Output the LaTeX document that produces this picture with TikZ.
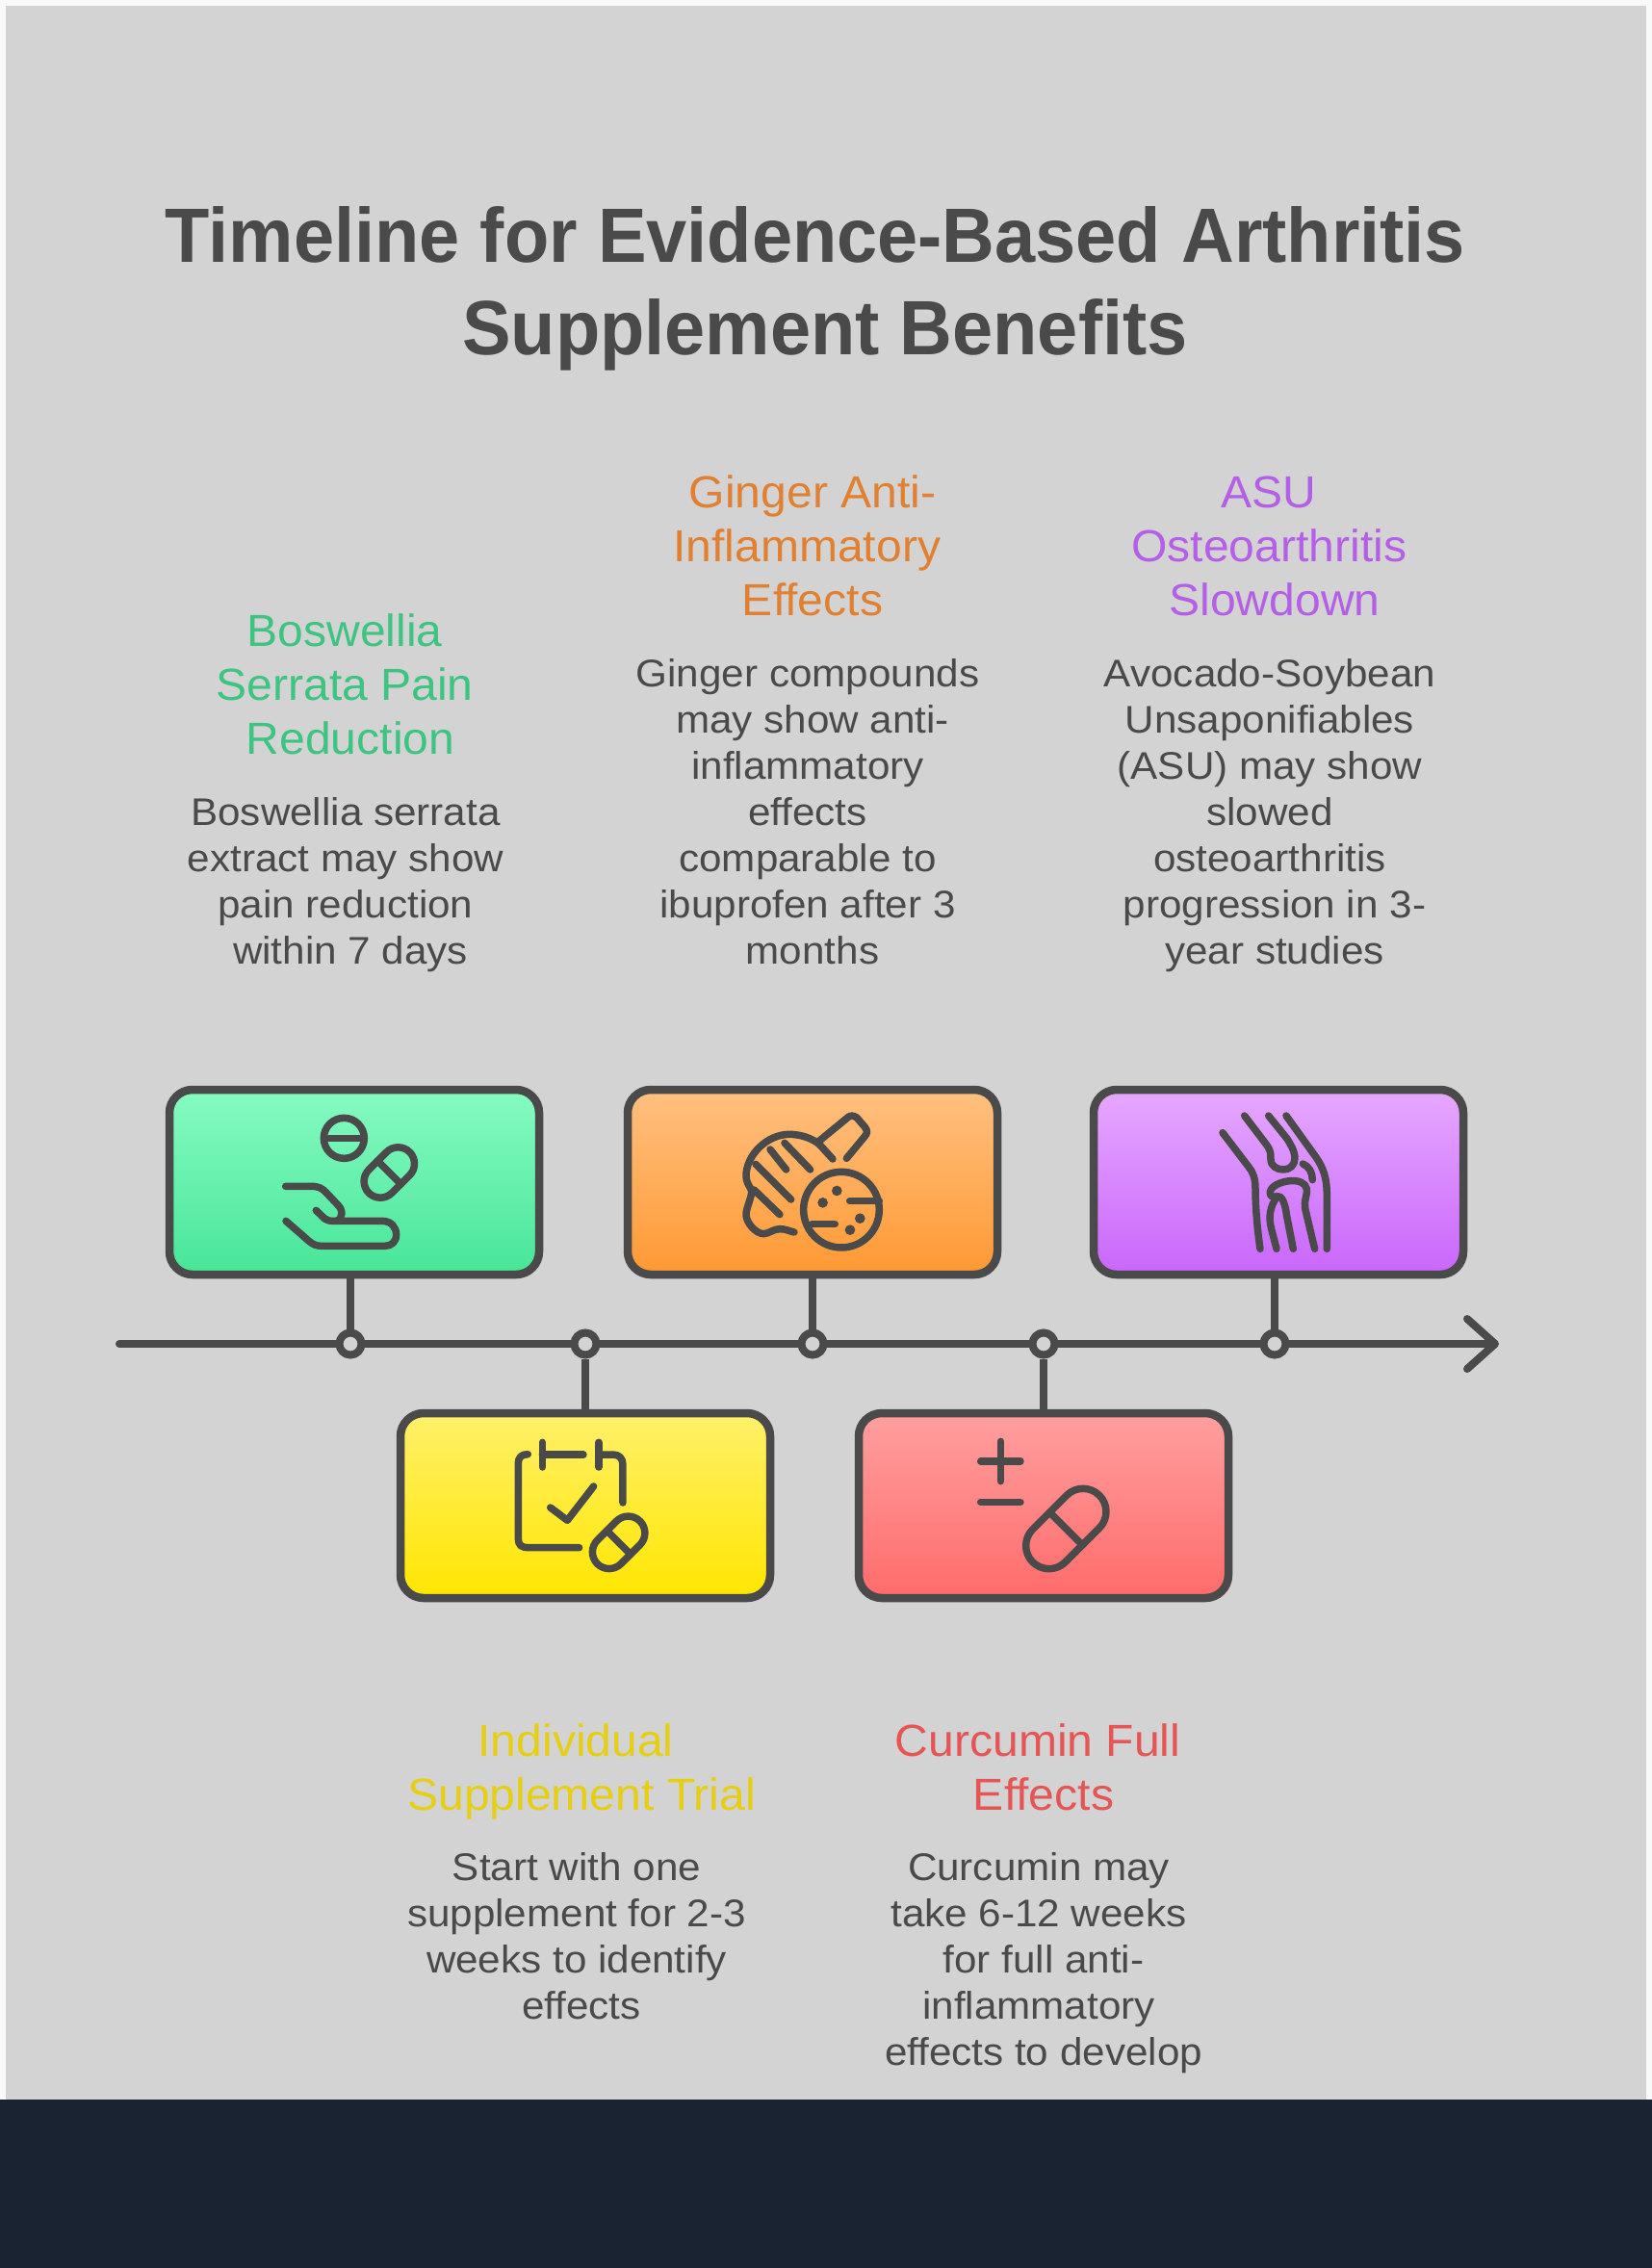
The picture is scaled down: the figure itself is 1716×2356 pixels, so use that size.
\documentclass[tikz,border=0pt]{standalone}
\usepackage{fontspec}
\setmainfont[FakeStretch=1.055,BoldFeatures={FakeStretch=0.947}]{Liberation Sans}
\newfontfamily\headfont[FakeStretch=1.03]{Liberation Sans}
\usetikzlibrary{arrows.meta}
\definecolor{inkgrey}{HTML}{4A4A4A}
\definecolor{panelgrey}{HTML}{D3D3D3}
\definecolor{pagewhite}{HTML}{F8FAFA}
\definecolor{footbar}{HTML}{1A2332}
\definecolor{txtgreen}{HTML}{3CC480}
\definecolor{txtorange}{HTML}{E08030}
\definecolor{txtpurple}{HTML}{B45FE6}
\definecolor{txtyellow}{HTML}{E6CF12}
\definecolor{txtred}{HTML}{E65555}
\definecolor{greentop}{HTML}{86FBC2}
\definecolor{greenbot}{HTML}{47E598}
\definecolor{orangetop}{HTML}{FFC080}
\definecolor{orangebot}{HTML}{FF9933}
\definecolor{purpletop}{HTML}{E6A8FF}
\definecolor{purplebot}{HTML}{C966FB}
\definecolor{yellowtop}{HTML}{FFF06A}
\definecolor{yellowbot}{HTML}{FFE600}
\definecolor{redtop}{HTML}{FF9F9F}
\definecolor{redbot}{HTML}{FF6B6B}
\newcommand{\tsp}{\kern0.25em}
\newcommand{\pillicon}[4]{
  \draw[icon,shift={(#1,#2)},rotate=45,rounded corners=#4*0.3333pt] (-#3-#4,-#4) rectangle (#3+#4,#4);
  \draw[icon,shift={(#1,#2)},rotate=45] (0,-#4) -- (0,#4);
}
\tikzset{
  x=1pt,y=-1pt,
  icon/.style={draw=inkgrey,line width=7.5pt,line cap=round,line join=round},
  iconbox/.style={draw=inkgrey,line width=8.5pt,rounded corners=24pt,minimum width=384pt,minimum height=192pt,inner sep=0pt},
  dotmark/.style={circle,draw=inkgrey,fill=panelgrey,line width=8pt,minimum size=23pt,inner sep=0pt},
  conn/.style={draw=inkgrey,line width=8pt},
  titletxt/.style={text=inkgrey,font=\fontsize{80}{96}\selectfont\bfseries,align=center,inner sep=0pt,anchor=base},
  headtxt/.style={font=\fontsize{46.67}{56}\selectfont\headfont,align=center,inner sep=0pt,anchor=base},
  bodytxt/.style={text=inkgrey,font=\fontsize{40}{48}\selectfont,align=center,inner sep=0pt,anchor=base},
  zoomed/.style={x=0.3333pt,y=-0.3333pt}
}
\begin{document}
\begin{tikzpicture}
            \useasboundingbox (0,0) rectangle (1716,2356);
            \fill[pagewhite] (0,0) rectangle (1716,2356);
            \fill[panelgrey] (6,6) rectangle (1710,2181);
            \fill[footbar] (0,2181) rectangle (1716,2356);

            \node[titletxt](title) at (857,368) {Timeline for Evidence-Based Arthritis\tsp\\Supplement Benefits};

            \node[headtxt,text=txtgreen](hgreen) at (364,783) {Boswellia\tsp\\Serrata Pain\tsp\\Reduction};
            \node[bodytxt](tgreen) at (364,1001) {Boswellia serrata\tsp\\extract may show\tsp\\pain reduction\tsp\\within 7 days};
            \node[headtxt,text=txtorange](horange) at (844,639) {Ginger Anti-\\Inflammatory\tsp\\Effects};
            \node[bodytxt](torange) at (844,1001) {Ginger compounds\tsp\\may show anti-\\inflammatory\tsp\\effects\tsp\\comparable to\tsp\\ibuprofen after 3\tsp\\months};
            \node[headtxt,text=txtpurple](hpurple) at (1324,639) {ASU\tsp\\Osteoarthritis\tsp\\Slowdown};
            \node[bodytxt](tpurple) at (1324,1001) {Avocado-Soybean\tsp\\Unsaponifiables\tsp\\(ASU) may show\tsp\\slowed\tsp\\osteoarthritis\tsp\\progression in 3-\\year studies};
            \node[headtxt,text=txtyellow](hyellow) at (604,1880) {Individual\tsp\\Supplement Trial};
            \node[bodytxt](tyellow) at (604,2097) {Start with one\tsp\\supplement for 2-3\tsp\\weeks to identify\tsp\\effects};
            \node[headtxt,text=txtred](hred) at (1084,1880) {Curcumin Full\tsp\\Effects};
            \node[bodytxt](tred) at (1084,2145) {Curcumin may\tsp\\take 6-12 weeks\tsp\\for full anti-\\inflammatory\tsp\\effects to develop};

            \coordinate (tlstart) at (124,1396);
            \coordinate (tlend) at (1557,1396);
            \draw[conn,line cap=round,-{Straight Barb[length=29pt,width=52pt,round]}] (tlstart) -- (tlend);

            \node[iconbox,top color=greentop,bottom color=greenbot](bgreen) at (368,1228) {};
            \node[iconbox,top color=orangetop,bottom color=orangebot](borange) at (844,1228) {};
            \node[iconbox,top color=purpletop,bottom color=purplebot](bpurple) at (1328,1228) {};
            \node[iconbox,top color=yellowtop,bottom color=yellowbot](byellow) at (608,1564) {};
            \node[iconbox,top color=redtop,bottom color=redbot](bred) at (1084,1564) {};

            \node[dotmark](dgreen) at (364,1396) {};
            \node[dotmark](dyellow) at (608,1396) {};
            \node[dotmark](dorange) at (844,1396) {};
            \node[dotmark](dred) at (1084,1396) {};
            \node[dotmark](dpurple) at (1324,1396) {};

            \draw[conn] (dgreen) -- (dgreen|-bgreen.south);
            \draw[conn] (dorange) -- (borange);
            \draw[conn] (dpurple) -- (dpurple|-bpurple.south);
            \draw[conn] (dyellow) -- (byellow);
            \draw[conn] (dred) -- (bred);

            \begin{scope}[shift={(150,1100)},zoomed]
              \draw[icon] (622,247) circle [radius=63];
              \draw[icon] (560,247) -- (684,247);
              \pillicon{763}{354}{39}{51}
              \draw[icon] (440,397) -- (520,397) .. controls (545,397) and (555,405) .. (565,415) -- (600,452) .. controls (620,470) and (620,495) .. (600,505);
              \draw[icon] (535,472) -- (562,498) .. controls (570,504) and (578,505) .. (590,505) -- (740,505) .. controls (770,505) and (785,525) .. (785,548) .. controls (785,570) and (770,583) .. (750,583) -- (552,583) .. controls (535,583) and (525,578) .. (512,567) -- (441,505);
            \end{scope}

            \begin{scope}[shift={(630,1100)},zoomed]
              \draw[icon] (705,312) -- (665,268) .. controls (640,245) and (600,235) .. (570,235) .. controls (500,235) and (435,300) .. (435,365) .. controls (435,385) and (445,395) .. (452,410) .. controls (455,425) and (435,465) .. (435,485) .. controls (435,510) and (465,545) .. (490,545) .. controls (505,545) and (520,530) .. (540,530) .. controls (560,530) and (570,537) .. (585,540);
              \draw[icon] (660,258) -- (755,180) .. controls (765,175) and (775,178) .. (780,183) -- (805,212) .. controls (815,225) and (812,232) .. (806,240) -- (748,310);
              \draw[icon] (555,262) -- (635,345);
              \draw[icon] (510,282) -- (560,345);
              \draw[icon] (465,328) -- (575,438);
              \draw[icon] (460,408) -- (540,485);
              \draw[icon] (732,470) circle [radius=118];
              \draw[icon] (758,443) -- (850,443);
              \draw[icon] (640,515) -- (712,515);
              \fill[inkgrey] (718,411) circle [radius=16];
              \fill[inkgrey] (674,448) circle [radius=16];
              \fill[inkgrey] (790,497) circle [radius=16];
              \fill[inkgrey] (759,533) circle [radius=16];
            \end{scope}

            \begin{scope}[shift={(1100,1100)},zoomed]
              \draw[icon] (510,230) -- (590,335) .. controls (605,352) and (612,375) .. (612,400) .. controls (612,460) and (618,530) .. (627,592);
              \draw[icon] (578,177) -- (645,265) .. controls (660,285) and (660,295) .. (660,312) .. controls (660,335) and (680,345) .. (700,345) .. controls (720,345) and (735,330) .. (735,310) .. controls (735,285) and (720,265) .. (712,250) -- (653,177);
              \draw[icon] (708,177) -- (800,305) .. controls (825,340) and (835,375) .. (835,420) -- (835,592);
              \draw[icon] (760,327) .. controls (780,335) and (790,355) .. (790,377);
              \draw[icon] (797,592) -- (768,470) .. controls (762,440) and (775,425) .. (772,405) .. controls (768,385) and (745,378) .. (720,380) .. controls (695,382) and (660,395) .. (658,415) .. controls (656,430) and (668,432) .. (680,428) .. controls (695,425) and (705,450) .. (710,490) -- (730,592);
              \draw[icon] (678,592) -- (662,530) .. controls (652,490) and (658,460) .. (680,428);
            \end{scope}

            \begin{scope}[shift={(390,1440)},zoomed]
              \draw[icon] (475,212) .. controls (455,212) and (445,222) .. (445,240) -- (445,475) .. controls (445,495) and (455,503) .. (475,503) -- (635,503);
              \draw[icon] (520,175) -- (520,252);
              \draw[icon] (520,213) -- (648,213);
              \draw[icon] (696,175) -- (696,252);
              \draw[icon] (696,213) -- (740,213) .. controls (760,213) and (771,225) .. (771,245) -- (771,363);
              \draw[icon] (545,378) -- (598,418) -- (680,312);
              \pillicon{758}{487}{42}{52}
            \end{scope}

            \begin{scope}[shift={(870,1440)},zoomed]
              \draw[icon] (508,172) -- (508,296);
              \draw[icon] (446,234) -- (570,234);
              \draw[icon] (446,361) -- (570,361);
              \pillicon{712}{444}{75}{72}
            \end{scope}
\end{tikzpicture}
\end{document}
